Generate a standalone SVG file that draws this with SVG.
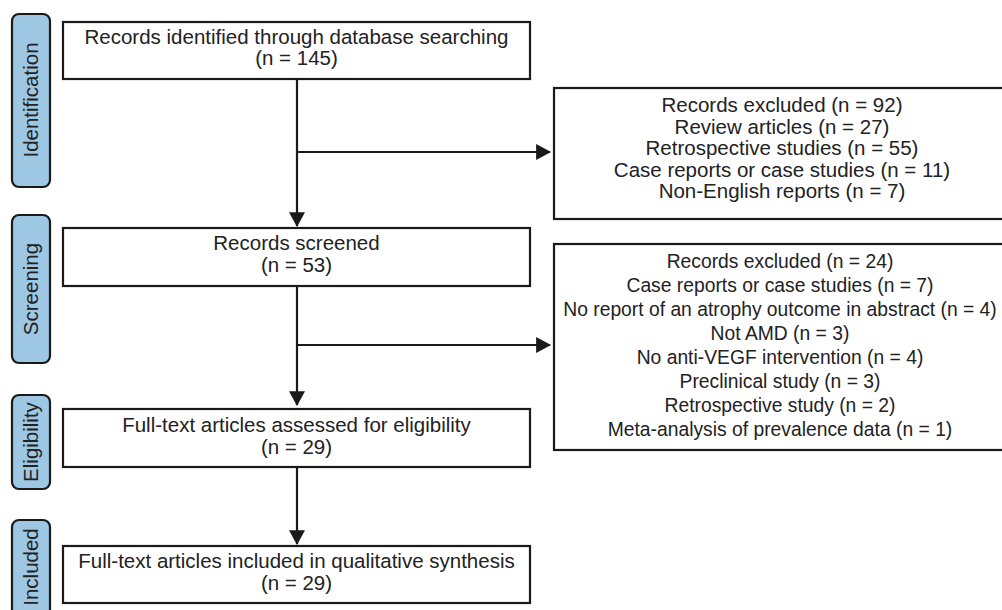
<svg xmlns="http://www.w3.org/2000/svg" width="1002" height="610" viewBox="0 0 1002 610">
<style>
  .tab { fill: #9ec7e4; stroke: #1a1a1a; stroke-width: 2.2; }
  .box { fill: #ffffff; stroke: #1a1a1a; stroke-width: 2.2; }
  .t { font-family: "Liberation Sans", Arial, sans-serif; font-size: 20.5px; fill: #222222; text-anchor: middle; }
  .s { font-size: 19.3px; }
  .conn { fill: none; stroke: #1a1a1a; stroke-width: 2.2; }
</style>
<defs>
  <marker id="ah" markerUnits="userSpaceOnUse" markerWidth="16" markerHeight="16" viewBox="0 0 14 15" refX="13" refY="7.5" orient="auto">
    <path d="M0,0 L14,7.5 L0,15 Z" fill="#1a1a1a"/>
  </marker>
</defs>
<rect width="1002" height="610" fill="#ffffff"/>

<g id="tab-identification">
  <rect class="tab" x="12" y="14" width="38" height="173" rx="7"/>
  <text class="t" transform="translate(38,100) rotate(-90)" x="0" y="0">Identification</text>
</g>
<g id="tab-screening">
  <rect class="tab" x="12" y="215" width="38" height="148" rx="7"/>
  <text class="t" transform="translate(38,289) rotate(-90)" x="0" y="0">Screening</text>
</g>
<g id="tab-eligibility">
  <rect class="tab" x="12" y="395" width="38" height="94" rx="7"/>
  <text class="t" transform="translate(38,442) rotate(-90)" x="0" y="0">Eligibility</text>
</g>
<g id="tab-included">
  <rect class="tab" x="12" y="520" width="38" height="100" rx="7"/>
  <text class="t" transform="translate(38,567) rotate(-90)" x="0" y="0">Included</text>
</g>

<g id="connectors">
  <line class="conn" x1="297" y1="79" x2="297" y2="226" marker-end="url(#ah)"/>
  <line class="conn" x1="297" y1="152" x2="550" y2="152" marker-end="url(#ah)"/>
  <line class="conn" x1="297" y1="286" x2="297" y2="405" marker-end="url(#ah)"/>
  <line class="conn" x1="297" y1="345" x2="550" y2="345" marker-end="url(#ah)"/>
  <line class="conn" x1="297" y1="467" x2="297" y2="544" marker-end="url(#ah)"/>
</g>

<g id="node-identified">
  <rect class="box" x="63" y="22" width="467" height="57"/>
  <text class="t" x="296.5" y="44">Records identified through database searching</text>
  <text class="t" x="296.5" y="65">(n = 145)</text>
</g>
<g id="node-screened">
  <rect class="box" x="63" y="228" width="467" height="58"/>
  <text class="t" x="296.5" y="250">Records screened</text>
  <text class="t" x="296.5" y="272">(n = 53)</text>
</g>
<g id="node-eligibility">
  <rect class="box" x="63" y="409" width="467" height="58"/>
  <text class="t" x="296.5" y="432">Full-text articles assessed for eligibility</text>
  <text class="t" x="296.5" y="454">(n = 29)</text>
</g>
<g id="node-included">
  <rect class="box" x="63" y="546" width="467" height="57"/>
  <text class="t" x="296.5" y="568">Full-text articles included in qualitative synthesis</text>
  <text class="t" x="296.5" y="590">(n = 29)</text>
</g>

<g id="node-excluded-1">
  <rect class="box" x="554" y="88" width="460" height="131"/>
  <text class="t" x="782" y="112">Records excluded (n = 92)</text>
  <text class="t" x="782" y="133.5">Review articles (n = 27)</text>
  <text class="t" x="782" y="155">Retrospective studies (n = 55)</text>
  <text class="t" x="782" y="176.5">Case reports or case studies (n = 11)</text>
  <text class="t" x="782" y="198">Non-English reports (n = 7)</text>
</g>
<g id="node-excluded-2">
  <rect class="box" x="554" y="244" width="460" height="206"/>
  <text class="t s" x="780" y="268">Records excluded (n = 24)</text>
  <text class="t s" x="780" y="292">Case reports or case studies (n = 7)</text>
  <text class="t s" x="780" y="316">No report of an atrophy outcome in abstract (n = 4)</text>
  <text class="t s" x="780" y="340">Not AMD (n = 3)</text>
  <text class="t s" x="780" y="364">No anti-VEGF intervention (n = 4)</text>
  <text class="t s" x="780" y="388">Preclinical study (n = 3)</text>
  <text class="t s" x="780" y="412">Retrospective study (n = 2)</text>
  <text class="t s" x="780" y="436">Meta-analysis of prevalence data (n = 1)</text>
</g>
</svg>
